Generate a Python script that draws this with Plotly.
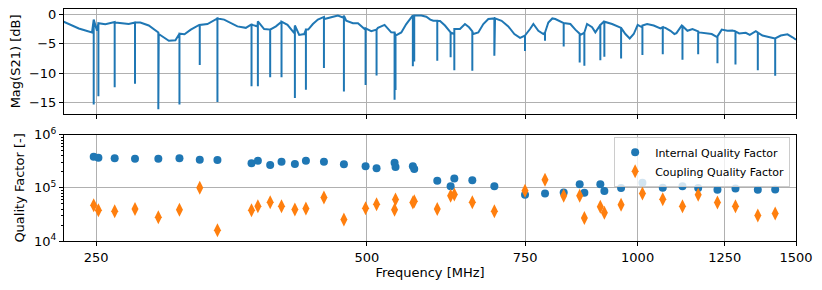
import math
import plotly.graph_objects as go

# ---------------- data ----------------
# smooth S21 background (frequency in MHz, magnitude in dB)
base_freq = [230.1, 239.2, 247.4, 250.6, 256.0, 262.7, 271.8, 280.0, 286.1, 293.5,
             301.2, 306.3, 313.5, 318.6, 325.5, 332.5, 341.1, 347.0, 359.0, 366.8,
             373.1, 377.9, 384.4, 390.4, 396.2, 401.9, 408.1, 415.2, 420.5, 425.9,
             430.3, 435.5, 441.1, 448.6, 456.4, 464.3, 470.3, 474.3, 482.5, 488.8,
             497.1, 505.7, 514.4, 523.2, 532.2, 538.1, 546.1, 553.1, 562.6, 574.8,
             582.2, 588.2, 592.7, 603.0, 610.7, 618.6, 625.5, 634.6, 642.8, 649.5,
             656.7, 665.1, 673.7, 682.4, 694.2, 706.0, 718.2, 729.4, 740.1, 749.6,
             759.3, 765.8, 775.6, 785.6, 795.7, 803.9, 810.1, 820.5, 831.1, 841.9,
             852.7, 863.7, 870.9, 878.6, 890.0, 897.5, 909.0, 916.8, 936.8, 956.9,
             969.2, 980.0, 990.1, 1000.2, 1011.6, 1024.6, 1042.1, 1060.2, 1073.8, 1087.7,
             1098.8, 1104.5, 1119.7, 1136.0, 1150.8, 1170.6, 1190.6, 1209.0, 1226.8, 1240.4,
             1258.6, 1274.8, 1296.9, 1319.0, 1332.7, 1353.3, 1376.7, 1400.5, 1422.2, 1442.7,
             1467.7, 1486.6, 1500.0]
base_db = [-1.25, -2.4, -3.1, -2.8, -1.7, -1.4, -1.65, -1.4, -1.9, -3.35,
           -4.5, -4.4, -3.4, -2.6, -1.8, -1.65, -0.8, -0.9, -2.05, -2.3,
           -1.8, -2.05, -2.5, -2.6, -2.05, -1.25, -1.8, -3.2, -3.5, -3.35,
           -2.6, -1.65, -0.9, -0.8, -0.5, -0.2, -0.55, -1.1, -1.5, -1.5,
           -2.5, -2.85, -2.3, -1.8, -3.07, -3.6, -3.07, -1.65, -0.45, -0.2,
           -0.4, -0.9, -1.1, -1.15, -1.9, -2.95, -3.35, -2.5, -1.65, -2.2,
           -3.35, -3.07, -1.65, -0.8, -0.7, -1.1, -2.05, -3.35, -4.0, -3.6,
           -2.5, -1.65, -2.8, -3.35, -1.4, -0.7, -0.8, -1.25, -1.5, -1.65,
           -2.6, -3.5, -3.2, -1.65, -2.2, -3.07, -1.9, -1.25, -1.65, -2.3,
           -3.35, -4.1, -3.35, -1.8, -2.2, -1.65, -1.9, -2.4, -2.3, -2.8,
           -3.35, -3.2, -1.9, -2.8, -2.5, -3.07, -3.25, -3.35, -3.9, -2.6,
           -2.8, -2.75, -3.25, -3.15, -3.5, -2.85, -3.6, -3.9, -4.1, -3.6,
           -3.4, -3.9, -4.3]

# resonances: frequency (MHz), S21 at top/bottom of dip (dB), internal and coupling Q
res_freq = [248.5, 251.5, 262.2, 276.2, 293.2, 309.5, 326.0, 341.1, 372.2, 378.3,
            390.4, 401.9, 415.9, 427.8, 448.0, 471.5, 498.4, 512.6, 536.8, 538.1,
            562.5, 564.5, 598.8, 619.6, 625.5, 655.0, 693.0, 749.6, 789.0, 827.6,
            862.2, 872.6, 909.0, 918.4, 958.6, 1012.4, 1066.5, 1121.7, 1167.7, 1226.8,
            1284.7, 1360.3, 1422.2]
dip_top = [-0.9, -1.5, -1.3, -1.4, -3.1, -3.3, -1.8, -0.7, -1.7, -1.2,
           -2.6, -1.25, -1.9, -2.6, -0.45, -0.25, -2.4, -2.6, -3.1, -3.6,
           -0.2, -0.2, -1.1, -3.1, -2.5, -2.9, -0.7, -3.6, -3.1, -1.5,
           -3.3, -3.1, -1.8, -1.25, -2.3, -1.9, -2.2, -2.0, -2.9, -3.75,
           -2.9, -3.1, -4.1]
dip_bottom = [-15.3, -13.9, -12.4, -11.8, -16.1, -15.3, -8.6, -14.9, -12.2, -12.2,
              -10.7, -10.7, -14.2, -12.8, -9.1, -13.1, -12.0, -10.4, -14.5, -12.85,
              -8.8, -8.0, -7.9, -7.3, -9.5, -9.6, -7.05, -6.25, -4.5, -5.45,
              -8.2, -8.75, -7.8, -7.2, -7.5, -6.9, -6.8, -7.7, -6.8, -8.3,
              -8.5, -9.5, -10.45]
q_internal = [3.88e5, 3.72e5, 3.62e5, 3.56e5, 3.56e5, 3.62e5, 3.41e5, 3.37e5, 2.91e5, 3.26e5,
              2.70e5, 3.13e5, 2.83e5, 3.26e5, 3.13e5, 2.79e5, 2.55e5, 2.34e5, 2.99e5, 2.48e5,
              2.55e5, 2.28e5, 1.37e5, 1.07e5, 1.51e5, 1.39e5, 1.07e5, 7.43e4, 7.89e4, 8.24e4,
              1.17e5, 8.09e4, 1.17e5, 8.71e4, 9.94e4, 1.25e5, 1.01e5, 1.08e5, 9.94e4, 9.23e4,
              9.80e4, 9.23e4, 9.38e4]
q_coupling = [4.74e4, 3.81e4, 3.65e4, 4.03e4, 2.81e4, 3.86e4, 1.01e5, 1.59e4, 3.81e4, 4.54e4,
              5.40e4, 4.54e4, 3.93e4, 4.10e4, 6.62e4, 2.54e4, 4.16e4, 4.95e4, 3.86e4, 6.07e4,
              5.33e4, 5.64e4, 4.03e4, 7.10e4, 7.55e4, 5.40e4, 3.65e4, 8.83e4, 1.43e5, 7.10e4,
              7.10e4, 2.72e4, 4.40e4, 3.39e4, 4.80e4, 7.89e4, 6.15e4, 4.54e4, 7.43e4, 5.33e4,
              4.54e4, 3.03e4, 3.30e4]

freq_ticks = [250, 500, 750, 1000, 1250, 1500]
db_ticks = [0, -5, -10, -15]
db_labels = ["0", "\u22125", "\u221210", "\u221215"]
q_ticks = [1e4, 1e5, 1e6]
q_labels = ["10<sup>4</sup>", "10<sup>5</sup>", "10<sup>6</sup>"]
q_minor_ticks = [m * 10 ** e for e in (4, 5) for m in range(2, 10)]

# ---------------- build S21 trace (background + vertical resonance dips) ----------------
segments = [(f, 0, [v]) for f, v in zip(base_freq, base_db)]
segments += [(f, 1, [t, b, t]) for f, t, b in zip(res_freq, dip_top, dip_bottom)]
segments.sort(key=lambda s: (s[0], s[1]))
s21_x, s21_y = [], []
for f, _, vals in segments:
    for v in vals:
        s21_x.append(f)
        s21_y.append(v)

BLUE = "#1f77b4"
ORANGE = "#ff7f0e"
FONT = "DejaVu Sans"
GRID = "#b0b0b0"

fig = go.Figure()
fig.add_trace(go.Scatter(x=s21_x, y=s21_y, mode="lines",
                         line=dict(color=BLUE, width=2),
                         xaxis="x", yaxis="y", showlegend=False))
fig.add_trace(go.Scatter(x=res_freq, y=q_internal, mode="markers",
                         marker=dict(color=BLUE, size=8, symbol="circle"),
                         name="Internal Quality Factor", xaxis="x2", yaxis="y2"))
fig.add_trace(go.Scatter(x=res_freq, y=q_coupling, mode="markers",
                         marker=dict(color=ORANGE, size=10, symbol="diamond-tall"),
                         name="Coupling Quality Factor", xaxis="x2", yaxis="y2"))

xr = [math.log10(230.3), math.log10(1500)]

common_x = dict(type="log", range=xr, tickvals=freq_ticks, showgrid=True,
                gridcolor=GRID, gridwidth=1, showline=True, linecolor="black",
                linewidth=1, mirror=True, ticks="outside", ticklen=4,
                tickcolor="black", zeroline=False, automargin=False,
                tickfont=dict(size=13), ticklabeloverflow="allow")
common_y = dict(showgrid=True, gridcolor=GRID, gridwidth=1, showline=True,
                linecolor="black", linewidth=1, mirror=True, ticks="outside",
                ticklen=4, tickcolor="black", zeroline=False, automargin=False,
                tickfont=dict(size=13), ticklabeloverflow="allow")

# the page adds an 8 px body margin, so the figure is sized to fit inside it
fig.update_layout(
    width=814, height=282,
    margin=dict(l=56, r=26, t=1, b=49),
    paper_bgcolor="white", plot_bgcolor="white",
    font=dict(family=FONT, size=13, color="black"),
    xaxis=dict(**common_x, domain=[0, 1], anchor="y", showticklabels=False),
    yaxis=dict(**common_y, domain=[0.548, 1], anchor="x", range=[-16.9, 0.9],
               tickvals=db_ticks, ticktext=db_labels,
               title=dict(text="Mag(S21) [dB]", standoff=6, font=dict(size=13))),
    xaxis2=dict(**common_x, domain=[0, 1], anchor="y2",
                ticktext=[str(t) for t in freq_ticks],
                title=dict(text="Frequency [MHz]", standoff=4, font=dict(size=13))),
    yaxis2=dict(**common_y, domain=[0, 0.4575], anchor="x2", type="log", range=[4, 6],
                tickvals=q_ticks, ticktext=q_labels,
                minor=dict(tickvals=q_minor_ticks, ticks="outside", ticklen=2,
                           tickcolor="black", tickwidth=0.8, showgrid=False),
                title=dict(text="Quality Factor [-]", standoff=6, font=dict(size=13))),
    legend=dict(x=0.992, y=0.449, xanchor="right", yanchor="top",
                bgcolor="rgba(255,255,255,0.8)", bordercolor="#cccccc", borderwidth=1,
                font=dict(size=11, family=FONT), tracegroupgap=0),
)

fig.write_html("out.html")
